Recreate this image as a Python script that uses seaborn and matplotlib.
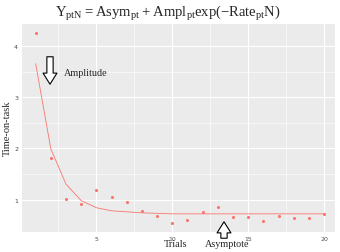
import matplotlib
matplotlib.use("Agg")
import matplotlib.pyplot as plt
from matplotlib.patches import FancyArrowPatch
import pandas as pd
import seaborn as sns

# observed time-on-task per trial and the fitted exponential curve
trials = list(range(1, 21))
observed = [4.25, 1.82, 1.01, 0.91, 1.18, 1.05, 0.95, 0.78, 0.67, 0.55,
            0.60, 0.76, 0.86, 0.66, 0.65, 0.58, 0.67, 0.63, 0.63, 0.72]
fitted = [3.66, 1.99, 1.30, 0.98, 0.84, 0.78, 0.76, 0.74, 0.73, 0.72,
          0.72, 0.72, 0.72, 0.72, 0.72, 0.72, 0.72, 0.72, 0.72, 0.72]
xticks = [5, 10, 15, 20]
yticks = [1, 2, 3, 4]

df = pd.DataFrame({"trial": trials, "observed": observed, "fitted": fitted})

sns.set_theme(style="darkgrid", rc={
    "axes.facecolor": "#EBEBEB",
    "grid.color": "white",
    "xtick.color": "#4D4D4D",
    "ytick.color": "#4D4D4D",
})
plt.rcParams["mathtext.fontset"] = "custom"
plt.rcParams["mathtext.rm"] = "Liberation Serif"

RED = "#F8766D"
fig = plt.figure(figsize=(3.4, 2.53), dpi=100)
ax = fig.add_axes([22 / 340, 20 / 253, 313 / 340, 208 / 253])

sns.lineplot(data=df, x="trial", y="fitted", color=RED, lw=0.6, ax=ax)
sns.scatterplot(data=df, x="trial", y="observed", color=RED, s=5,
                linewidth=0, ax=ax)

ax.set_xlim(0.1, 20.72)
ax.set_ylim(0.365, 4.435)
ax.set_xticks(xticks)
ax.set_yticks(yticks)
ax.set_xticks([2.5, 7.5, 12.5, 17.5], minor=True)
ax.set_yticks([1.5, 2.5, 3.5], minor=True)
ax.grid(which="major", color="white", lw=0.8)
ax.grid(which="minor", color="white", lw=0.4)
ax.tick_params(which="major", labelsize=4.5, length=2, width=0.5,
               color="#333333", pad=0.8, labelcolor="#4D4D4D")
ax.tick_params(which="minor", length=0)
ax.set_xlabel("")
ax.set_ylabel("")
for s in ax.spines.values():
    s.set_visible(False)

serif = "Liberation Serif"
fig.text(168 / 340, 1 - 13 / 253,
         r"$\mathrm{Y_{ptN}=Asym_{pt}+Ampl_{pt}exp(-Rate_{pt}N)}$",
         ha="center", va="center", fontsize=10.5)
fig.text(7 / 340, 1 - 128 / 253, "Time-on-task", rotation=90,
         ha="center", va="center", fontsize=7.5, family=serif)
fig.text(86 / 340, 1 - 73 / 253, "Amplitude", ha="center", va="center",
         fontsize=7.3, family=serif)
fig.text(176 / 340, 1 - 245 / 253, "Trials", ha="center", va="center",
         fontsize=7.3, family=serif)
fig.text(227 / 340, 1 - 245 / 253, "Asymptote", ha="center", va="center",
         fontsize=7.3, family=serif)

style = "simple,head_length=0.8,head_width=1.0,tail_width=0.45"
down = FancyArrowPatch((50 / 340, 1 - 55 / 253), (50 / 340, 1 - 88 / 253),
                       transform=fig.transFigure, arrowstyle=style,
                       mutation_scale=10, fc="white", ec="black", lw=0.8)
up = FancyArrowPatch((224 / 340, 1 - 242 / 253), (224 / 340, 1 - 220 / 253),
                     transform=fig.transFigure, arrowstyle=style,
                     mutation_scale=10, fc="white", ec="black", lw=0.8)
fig.patches.extend([down, up])

fig.savefig("out.png", dpi=100)
